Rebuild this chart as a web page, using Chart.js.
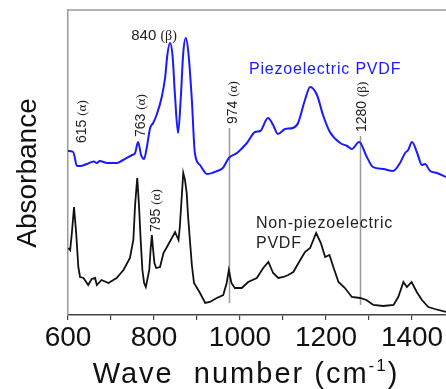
<!DOCTYPE html>
<html>
<head>
<meta charset="utf-8">
<script src="https://cdn.jsdelivr.net/npm/chart.js@4.4.1/dist/chart.umd.min.js"></script>
<style>
  html, body { margin: 0; padding: 0; background: #fff; }
  #wrap { width: 446px; height: 389px; }
</style>
</head>
<body>
<div id="wrap"><canvas id="ftirChart" width="446" height="389"></canvas></div>
<script>
// FTIR spectra, absorbance in arbitrary units (curves offset)
var piezoWave = [600, 612, 621, 628, 644, 660, 667, 674, 691, 714, 728, 749, 756, 763, 770, 777, 783, 791, 798, 806,
    818, 826, 831, 837, 843, 849, 856, 862, 868, 874, 880, 888, 895, 907, 923, 947, 960, 974, 993, 1016,
    1035, 1047, 1065, 1077, 1088, 1105, 1123, 1135, 1151, 1163, 1179, 1193, 1209, 1233, 1249, 1260, 1277, 1295, 1309, 1333,
    1356, 1372, 1384, 1391, 1400, 1412, 1423, 1430, 1442, 1458, 1479];
var piezoAbs = [164, 163, 149, 149, 151, 153.5, 152, 154, 152, 152, 155, 160, 162, 173, 160, 156, 167, 187, 192, 200,
    218, 238, 260, 272, 260, 218, 182, 215, 262, 277, 262, 215, 162, 150, 141, 144, 147, 157, 162, 172,
    183, 184, 197, 190, 181, 186, 187, 192, 215, 228, 220, 200, 183, 172, 169, 166, 173, 158, 148, 146,
    144, 152, 162, 165, 173, 162, 150, 151, 144, 142, 138];

var nonPiezoWave = [601, 605, 609, 614, 619, 624, 628, 636, 647, 655, 663, 667, 678, 694, 713, 729, 744, 752, 756, 761,
    765, 769, 773, 777, 781, 789, 792, 795, 798, 801, 805, 814, 822, 830, 839, 849, 857, 860, 864, 868,
    872, 876, 879, 884, 888, 893, 907, 919, 930, 946, 961, 969, 974, 980, 988, 1004, 1019, 1039, 1054, 1066,
    1077, 1089, 1101, 1112, 1124, 1140, 1151, 1163, 1177, 1188, 1198, 1208, 1217, 1229, 1244, 1260, 1279, 1294, 1310, 1333,
    1357, 1368, 1380, 1388, 1399, 1411, 1423, 1438, 1453, 1479];
var nonPiezoAbs = [67, 65, 82, 108, 82, 48, 38, 37, 30, 36, 37, 30, 35, 32, 37, 45, 57, 75, 110, 137,
    110, 75, 45, 32, 28, 45, 65, 80, 65, 52, 47, 48, 62, 68, 75, 83, 75, 88, 115, 142,
    135, 122, 100, 72, 50, 32, 22, 12, 13, 17, 20, 32, 45, 32, 27, 27, 33, 37, 47, 53,
    42, 37, 38, 40, 43, 55, 63, 67, 82, 72, 58, 60, 48, 33, 27, 18, 17, 15, 10, 9,
    10, 18, 33, 28, 33, 23, 15, 8, 6, 3];

var xTickLabels = [600, 800, 1000, 1200, 1400];

// marker lines at band positions
var bandLines = [974, 1280];
var bandTop = [187, 179];
var bandBottom = [12, 10];

// rotated band labels: [number, phase, wavenumber, absorbance at text start]
var bandLabels = [
    ['615', '(\u03B1)', 630, 172],
    ['763', '(\u03B1)', 767, 178],
    ['974', '(\u03B1)', 981, 191],
    ['1280', '(\u03B2)', 1281, 183],
    ['795', '(\u03B1)', 802, 83]
];

function toPoints(xs, ys) {
    var pts = [];
    for (var i = 0; i < xs.length; i++) {
        pts.push({x: xs[i], y: ys[i]});
    }
    return pts;
}

var SANS = '"Liberation Sans", Arial, sans-serif';
var SERIF = '"Liberation Serif", "Times New Roman", serif';

var decorPlugin = {
    id: 'decor',
    beforeDatasetsDraw: function (chart) {
        var ctx = chart.ctx;
        var xs = chart.scales.x, ys = chart.scales.y;
        ctx.save();
        ctx.strokeStyle = '#9a9a9a';
        ctx.lineWidth = 1.5;
        for (var i = 0; i < bandLines.length; i++) {
            var px = Math.round(xs.getPixelForValue(bandLines[i])) + 0.5;
            ctx.beginPath();
            ctx.moveTo(px, ys.getPixelForValue(bandTop[i]));
            ctx.lineTo(px, ys.getPixelForValue(bandBottom[i]));
            ctx.stroke();
        }
        ctx.restore();
    },
    afterDraw: function (chart) {
        var ctx = chart.ctx;
        var xs = chart.scales.x, ys = chart.scales.y;
        var area = chart.chartArea;
        ctx.save();

        // top frame line
        ctx.strokeStyle = '#9a9a9a';
        ctx.lineWidth = 1.5;
        ctx.beginPath();
        ctx.moveTo(area.left, area.top);
        ctx.lineTo(area.right, area.top);
        ctx.stroke();

        // rotated band labels
        ctx.fillStyle = '#222';
        ctx.textBaseline = 'alphabetic';
        ctx.textAlign = 'left';
        bandLabels.forEach(function (b) {
            var px = xs.getPixelForValue(b[2]);
            var py = ys.getPixelForValue(b[3]);
            ctx.save();
            ctx.translate(px + 5, py);
            ctx.rotate(-Math.PI / 2);
            ctx.font = '14px ' + SANS;
            ctx.fillText(b[0], 0, 0);
            var w = ctx.measureText(b[0] + ' ').width;
            ctx.font = '13px ' + SERIF;
            ctx.fillText(b[1], w, 0);
            ctx.restore();
        });

        // 840 (beta)
        var lx = xs.getPixelForValue(747), ly = ys.getPixelForValue(280) + 5;
        ctx.font = '15px ' + SANS;
        ctx.fillText('840 ', lx, ly);
        var w840 = ctx.measureText('840 ').width;
        ctx.font = '14px ' + SERIF;
        ctx.fillText('(\u03B2)', lx + w840, ly);

        // curve names
        ctx.letterSpacing = '0.8px';
        ctx.font = '16px ' + SANS;
        ctx.fillStyle = '#1a1aff';
        ctx.fillText('Piezoelectric PVDF', xs.getPixelForValue(1021), ys.getPixelForValue(247) + 6);
        ctx.fillStyle = '#222';
        ctx.fillText('Non-piezoelectric', xs.getPixelForValue(1037), ys.getPixelForValue(93) + 6);
        ctx.fillText('PVDF', xs.getPixelForValue(1037), ys.getPixelForValue(73) + 6);

        // y title
        ctx.letterSpacing = '0px';
        ctx.fillStyle = '#111';
        ctx.font = '28px ' + SANS;
        ctx.save();
        ctx.translate(36, 173);
        ctx.rotate(-Math.PI / 2);
        ctx.textAlign = 'center';
        ctx.fillText('Absorbance', 0, 0);
        ctx.restore();

        // x title with superscript
        ctx.letterSpacing = '2px';
        ctx.font = '29px ' + SANS;
        var part1 = 'Wave  number (cm';
        var w1 = ctx.measureText(part1).width;
        ctx.font = '17px ' + SANS;
        var wSup = ctx.measureText('-1').width;
        ctx.font = '29px ' + SANS;
        var w3 = ctx.measureText(')').width;
        var total = w1 + wSup + w3;
        var sx = 246 - total / 2, base = 383;
        ctx.fillText(part1, sx, base);
        ctx.font = '17px ' + SANS;
        ctx.fillText('-1', sx + w1, base - 12);
        ctx.font = '29px ' + SANS;
        ctx.fillText(')', sx + w1 + wSup, base);

        ctx.restore();
    }
};

var ctx = document.getElementById('ftirChart').getContext('2d');
var ftirChart = new Chart(ctx, {
    type: 'line',
    data: {
        datasets: [{
            label: 'Piezoelectric PVDF',
            data: toPoints(piezoWave, piezoAbs),
            borderColor: '#1a1aff',
            borderWidth: 2,
            pointRadius: 0,
            fill: false,
            cubicInterpolationMode: 'monotone'
        }, {
            label: 'Non-piezoelectric PVDF',
            data: toPoints(nonPiezoWave, nonPiezoAbs),
            borderColor: '#111',
            borderWidth: 1.8,
            pointRadius: 0,
            fill: false,
            tension: 0
        }]
    },
    options: {
        responsive: false,
        animation: false,
        devicePixelRatio: 1,
        layout: { padding: { top: 10, right: 0, left: 0, bottom: 0 } },
        plugins: {
            legend: { display: false },
            tooltip: { enabled: false }
        },
        scales: {
            x: {
                type: 'linear',
                min: 600,
                max: 1479,
                afterFit: function (scale) { scale.height = 74; },
                border: { color: '#444', width: 1.5 },
                grid: { drawOnChartArea: false, drawTicks: true, tickLength: 5, color: '#444', lineWidth: 1.2 },
                ticks: {
                    stepSize: 100,
                    includeBounds: false,
                    autoSkip: false,
                    maxRotation: 0,
                    padding: 1,
                    color: '#111',
                    font: { family: SANS, size: 28 },
                    callback: function (value) {
                        return xTickLabels.indexOf(value) >= 0 ? String(value) : '';
                    }
                }
            },
            y: {
                min: 0,
                max: 305,
                afterFit: function (scale) { scale.width = 68; },
                border: { color: '#9a9a9a', width: 1.5 },
                grid: { display: false },
                ticks: { display: false }
            }
        }
    },
    plugins: [decorPlugin]
});
</script>
</body>
</html>
